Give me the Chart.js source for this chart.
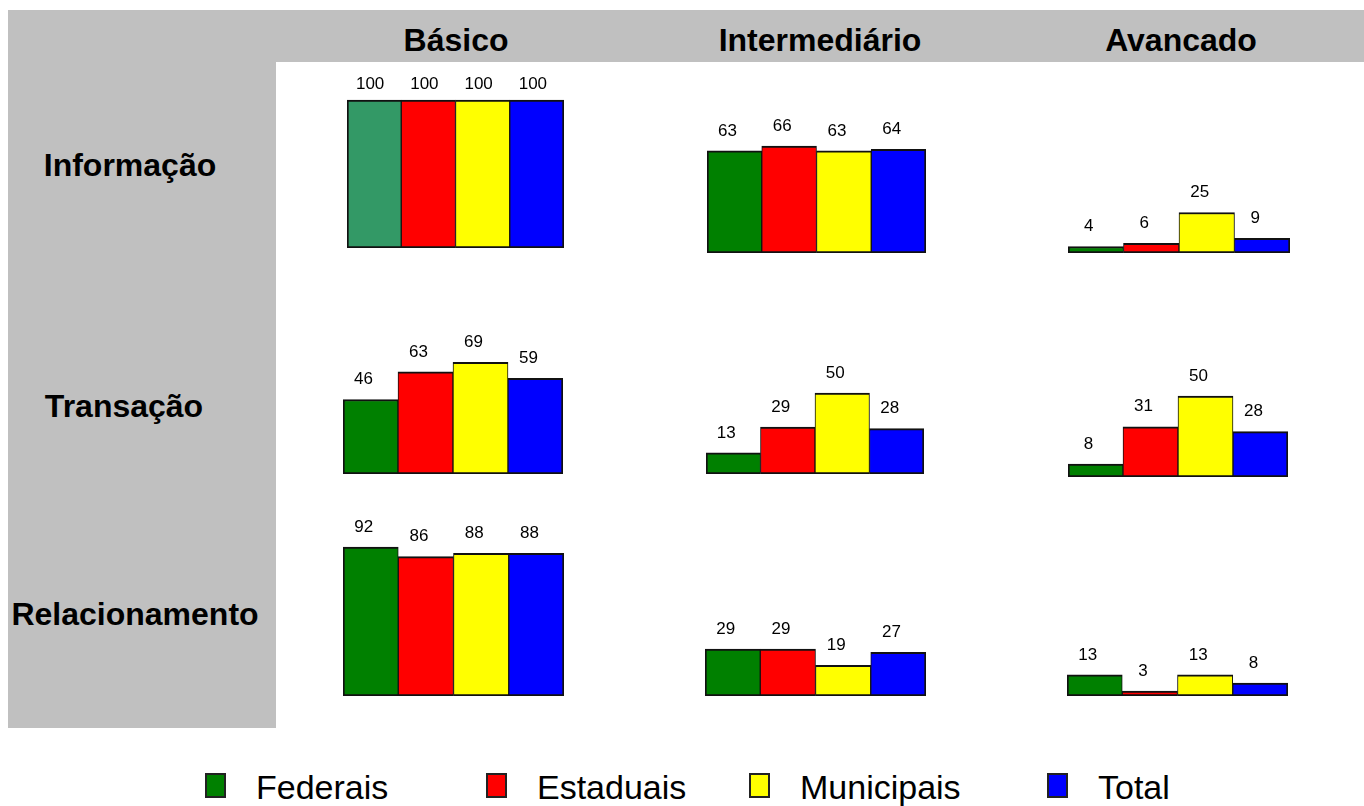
<!DOCTYPE html>
<html>
<head>
<meta charset="utf-8">
<script src="https://cdn.jsdelivr.net/npm/chart.js@4.4.0/dist/chart.umd.min.js"></script>
<style>
body{margin:0;background:#fff;font-family:"Liberation Sans",Arial,sans-serif;}
#stage{position:relative;width:1364px;height:806px;overflow:hidden;}
.band{position:absolute;background:#c0c0c0;}
.head,.row{position:absolute;font-weight:bold;font-size:32px;line-height:32px;color:#000;white-space:nowrap;transform:translateX(-50%);}
.panel{position:absolute;}
.leg-box{position:absolute;width:17px;height:21px;border:2px solid #222;}
.leg-txt{position:absolute;font-size:34px;line-height:34px;color:#000;white-space:nowrap;}
</style>
</head>
<body>
<div id="stage">
  <div class="band" style="left:8px;top:10px;width:1356px;height:52px"></div>
  <div class="band" style="left:8px;top:10px;width:268px;height:718px"></div>
</div>
<script>
const categories=['Federais','Estaduais','Municipais','Total'];
const levels=['Básico','Intermediário','Avancado'];
const dimensions=['Informação','Transação','Relacionamento'];
// values per [dimension][level]
const federais  =[[100,63,4],[46,13,8],[92,29,13]];
const estaduais =[[100,66,6],[63,29,31],[86,29,3]];
const municipais=[[100,63,25],[69,50,50],[88,19,13]];
const total     =[[100,64,9],[59,28,28],[88,27,8]];

const colors=['#008000','#ff0000','#ffff00','#0000ff'];
const stage=document.getElementById('stage');

// layout: bar block left/right per column, baseline per row
const colLeft=[[347,707,1068],[343,706,1068],[343,705,1067]];
const colRight=[[564,926,1290],[563,924,1288],[564,926,1288]];
const baseY=[[248,253,253],[474,474,477],[696,696,696]];
const headX=[456,820,1181], headTop=24;
const rowX=[130,124,135], rowTop=[149,390,598];
const PH=190;

levels.forEach((t,i)=>{ const d=document.createElement('div'); d.className='head'; d.textContent=t; d.style.left=headX[i]+'px'; d.style.top=headTop+'px'; stage.appendChild(d); });
dimensions.forEach((t,i)=>{ const d=document.createElement('div'); d.className='row'; d.textContent=t; d.style.left=rowX[i]+'px'; d.style.top=rowTop[i]+'px'; stage.appendChild(d); });

// legend
const legBox=[205,486,749,1047];
categories.forEach((c,i)=>{
  const b=document.createElement('div'); b.className='leg-box'; b.style.left=legBox[i]+'px'; b.style.top='773px'; b.style.background=colors[i]; stage.appendChild(b);
  const t=document.createElement('div'); t.className='leg-txt'; t.textContent=c; t.style.left=(legBox[i]+51)+'px'; t.style.top='770px'; stage.appendChild(t);
});

const valueLabels={
  id:'valueLabels',
  afterDatasetsDraw(chart,args,opts){
    const ctx=chart.ctx; const meta=chart.getDatasetMeta(0);
    ctx.save(); ctx.font='17px "Liberation Sans", Arial, sans-serif'; ctx.fillStyle='#000'; ctx.textAlign='center'; ctx.textBaseline='middle';
    meta.data.forEach((bar,i)=>{ ctx.fillText(chart.data.datasets[0].data[i], bar.x+opts.dx, bar.y-opts.gap); });
    ctx.restore();
  }
};

for(let r=0;r<3;r++) for(let c=0;c<3;c++){
  const first=(r===0&&c===0);
  const ppu=first?1.48:1.62;
  const w=colRight[r][c]-colLeft[r][c];
  const holder=document.createElement('div'); holder.className='panel';
  holder.style.left=colLeft[r][c]+'px'; holder.style.top=(baseY[r][c]-PH)+'px';
  holder.style.width=w+'px'; holder.style.height=PH+'px';
  const cv=document.createElement('canvas'); holder.appendChild(cv); stage.appendChild(holder);
  const vals=[federais[r][c],estaduais[r][c],municipais[r][c],total[r][c]];
  const bg=colors.slice(); if(first) bg[0]='#339966';
  new Chart(cv,{
    type:'bar',
    data:{labels:categories,datasets:[{data:vals,backgroundColor:bg,borderColor:'#111',
      borderWidth:ctx=>({top:2,bottom:2,left:ctx.dataIndex===0?2:1,right:ctx.dataIndex===3?2:1}),
      borderSkipped:false,categoryPercentage:1,barPercentage:1,clip:false}]},
    options:{responsive:true,maintainAspectRatio:false,animation:false,
      layout:{padding:0},
      scales:{x:{display:false},y:{display:false,min:0,max:PH/ppu}},
      plugins:{legend:{display:false},tooltip:{enabled:false},valueLabels:{gap:first?16:20,dx:first?-4:-7}}},
    plugins:[valueLabels]
  });
}
</script>
</body>
</html>
